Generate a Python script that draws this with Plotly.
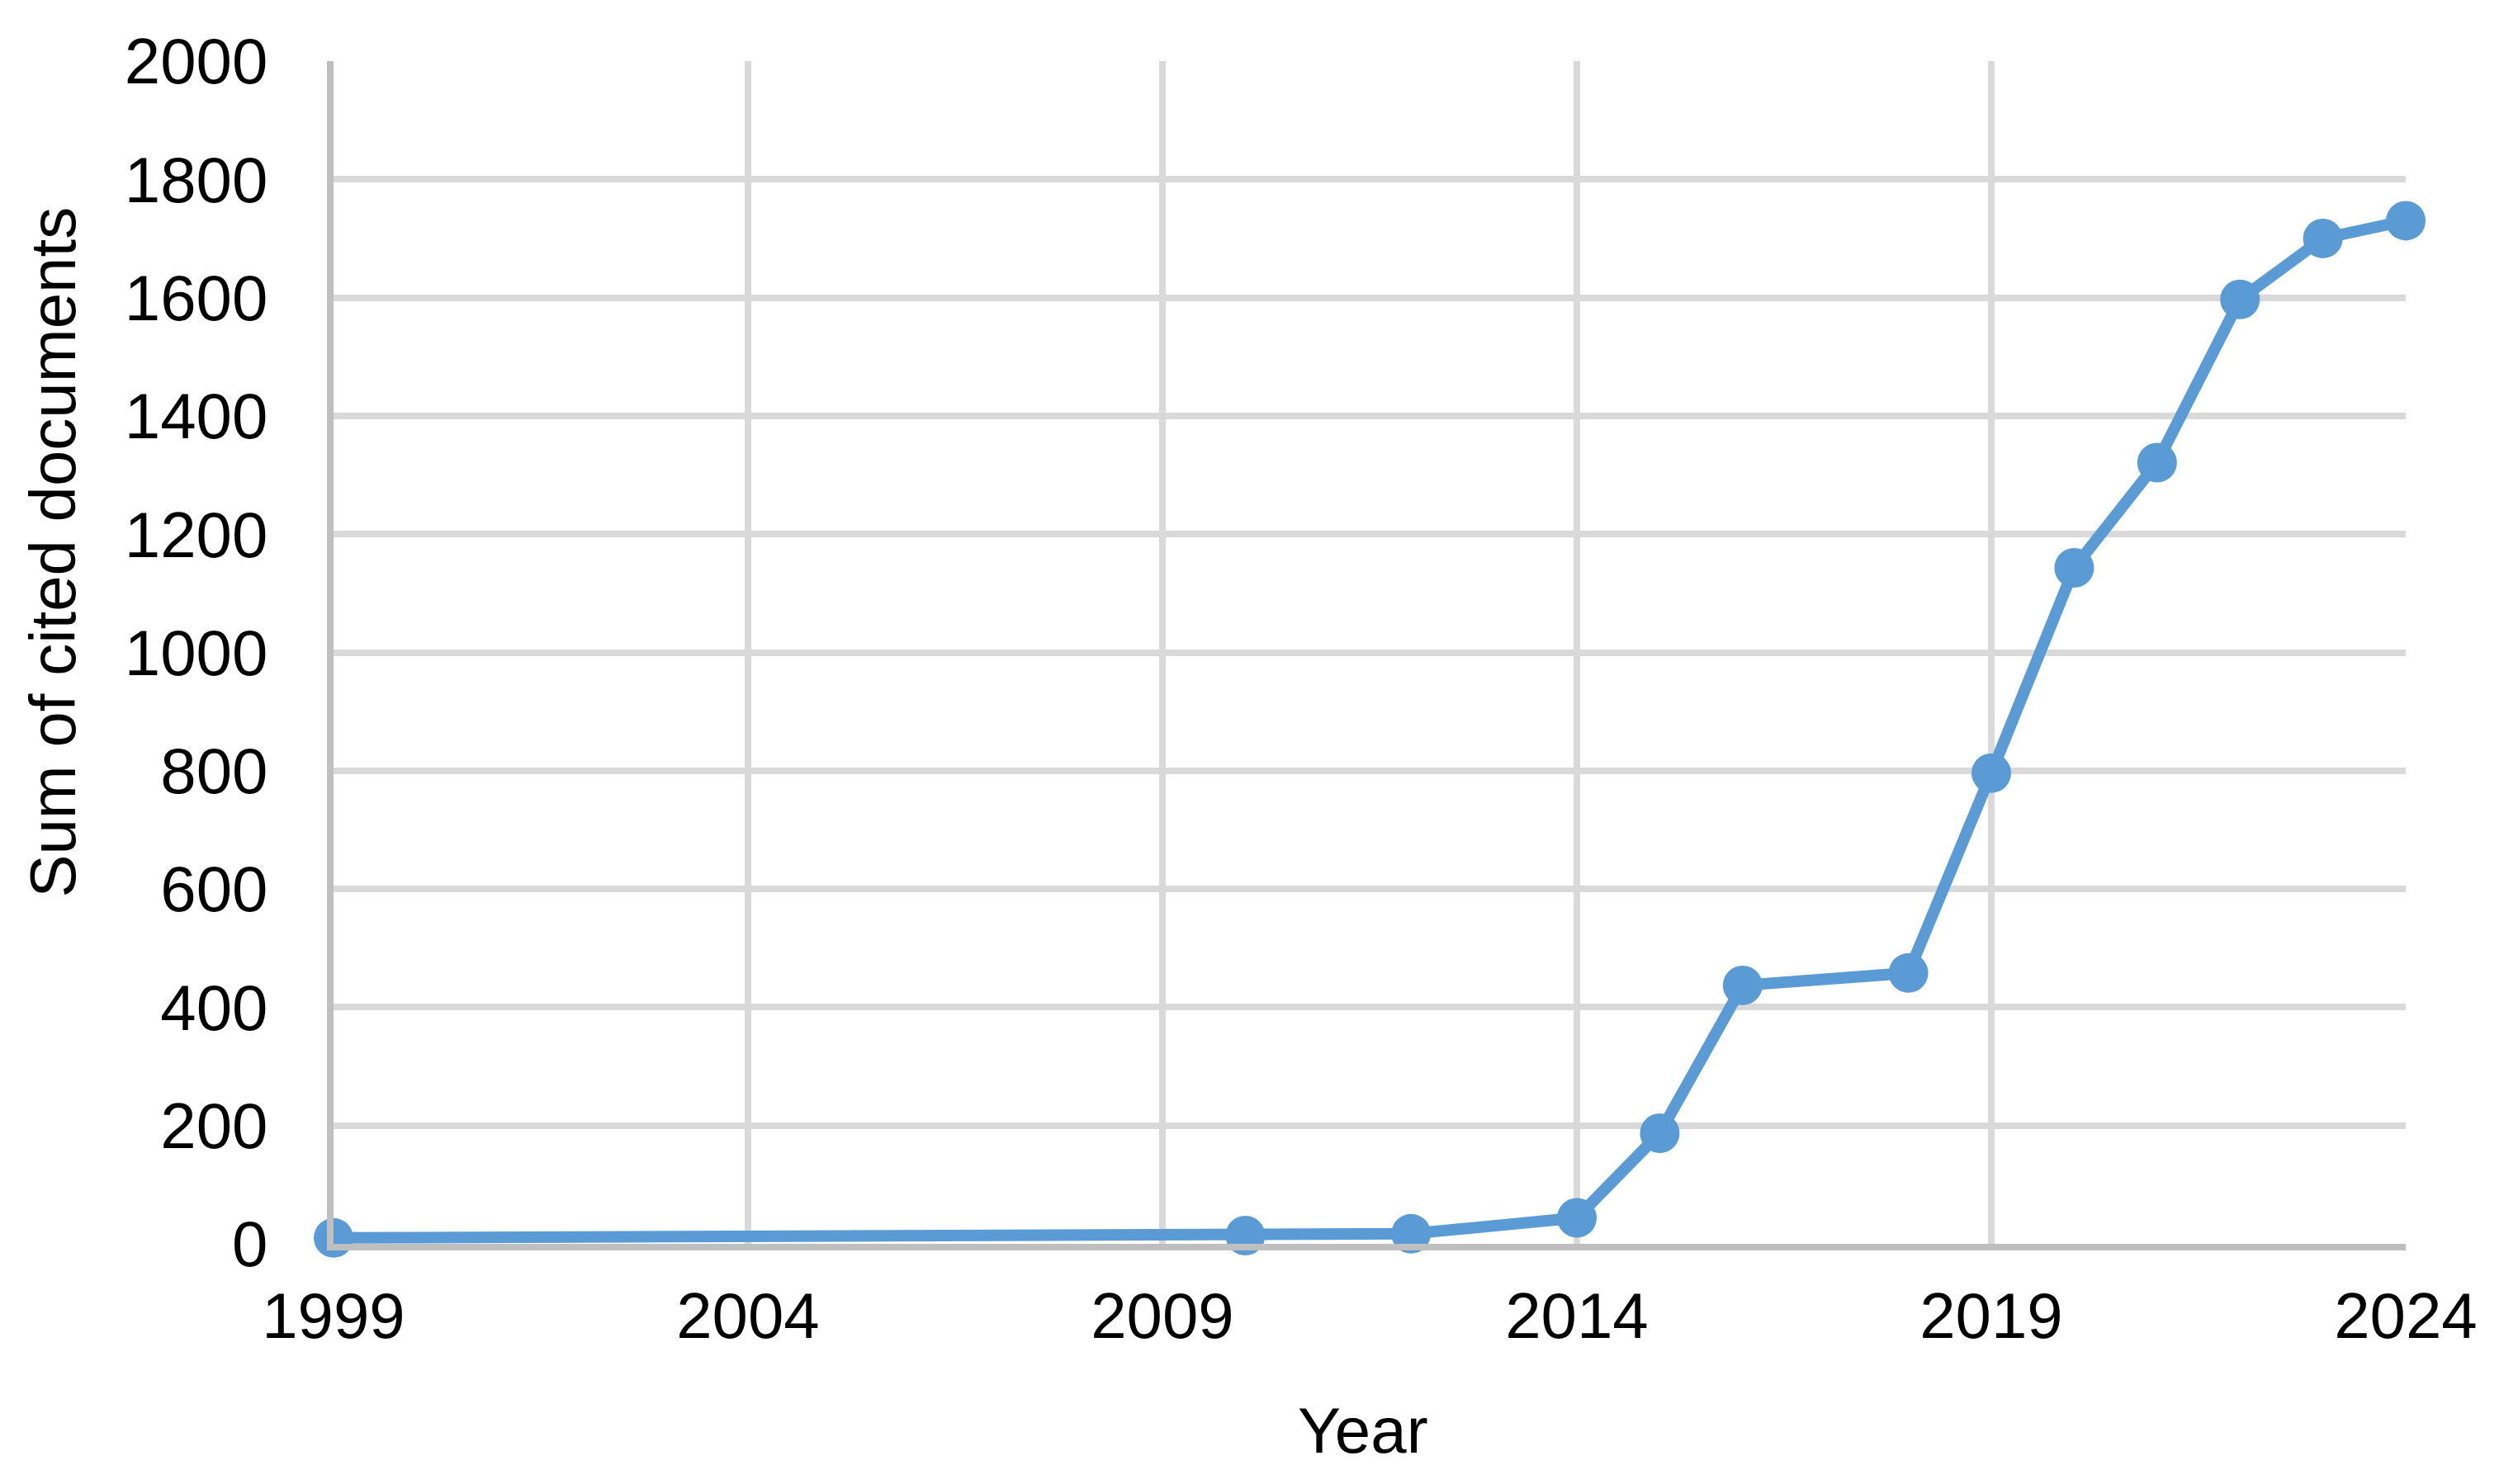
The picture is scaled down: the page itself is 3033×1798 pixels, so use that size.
import plotly.graph_objects as go

years = [1999, 2010, 2012, 2014, 2015, 2016, 2018, 2019, 2020, 2021, 2022, 2023, 2024]
cited = [10, 14, 17, 44, 187, 437, 458, 796, 1143, 1321, 1597, 1700, 1730]

x_ticks = [1999, 2004, 2009, 2014, 2019, 2024]
y_ticks = [0, 200, 400, 600, 800, 1000, 1200, 1400, 1600, 1800, 2000]

FONT = "Liberation Sans, Arial, sans-serif"
BLUE = "#5b9bd5"

fig = go.Figure()
fig.add_trace(go.Scatter(
    x=years, y=cited, mode="lines+markers",
    line=dict(color=BLUE, width=14),
    marker=dict(color=BLUE, size=48),
    cliponaxis=False, showlegend=False,
))

fig.update_layout(
    width=3033, height=1798,
    margin=dict(l=396, r=127, t=66, b=299),
    paper_bgcolor="white", plot_bgcolor="white",
    font=dict(family=FONT, size=78, color="black"),
    xaxis=dict(
        range=[1999, 2024], tickvals=x_ticks, ticktext=[str(v) for v in x_ticks],
        showgrid=True, gridcolor="#d9d9d9", gridwidth=8,
        showline=True, linecolor="#bfbfbf", linewidth=8,
        zeroline=False, ticks="", ticklabelstandoff=12,
        tickfont=dict(family=FONT, size=78, color="black"),
    ),
    yaxis=dict(
        range=[0, 2000], tickvals=y_ticks, ticktext=[str(v) for v in y_ticks],
        showgrid=True, gridcolor="#d9d9d9", gridwidth=8,
        showline=True, linecolor="#bfbfbf", linewidth=8,
        zeroline=False, ticks="", ticklabelstandoff=56,
        tickfont=dict(family=FONT, size=78, color="black"),
    ),
    annotations=[
        dict(text="Year", xref="paper", yref="paper", x=0.497, y=-0.158,
             xanchor="center", yanchor="middle", showarrow=False,
             font=dict(family=FONT, size=78, color="black")),
        dict(text="Sum of cited documents", xref="paper", yref="paper",
             x=-0.1355, y=0.585, textangle=-90,
             xanchor="center", yanchor="middle", showarrow=False,
             font=dict(family=FONT, size=78, color="black")),
    ],
)

fig.write_html("out.html")
